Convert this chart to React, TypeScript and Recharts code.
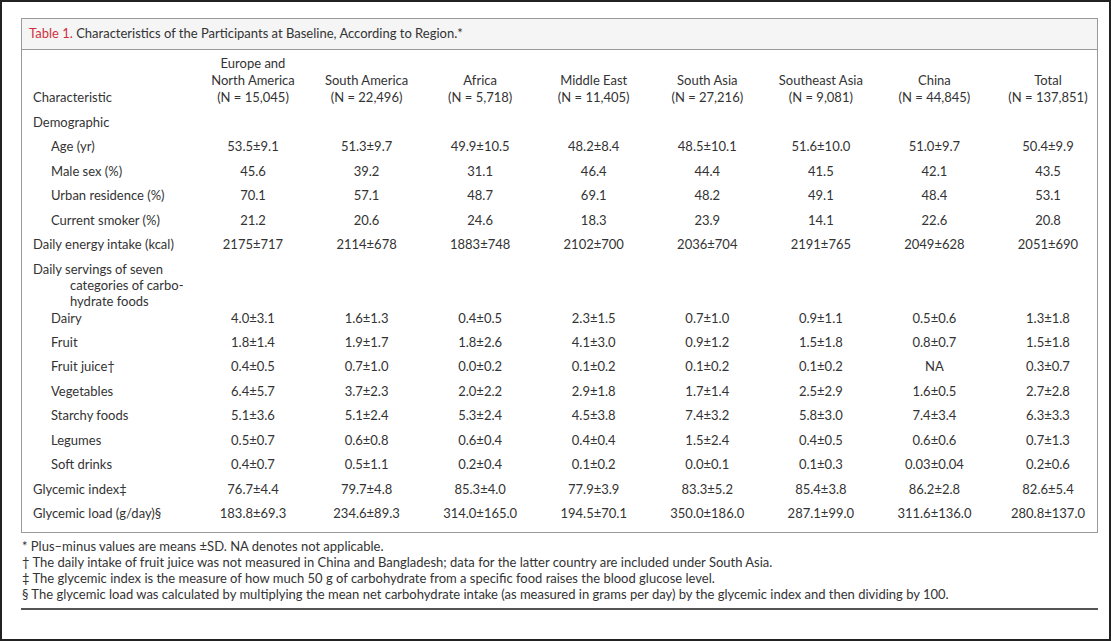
import { ScatterChart, Scatter, XAxis, YAxis } from 'recharts';

const regions = [
  'Europe and\nNorth America',
  'South America',
  'Africa',
  'Middle East',
  'South Asia',
  'Southeast Asia',
  'China',
  'Total',
];
const regionCounts = ['15,045', '22,496', '5,718', '11,405', '27,216', '9,081', '44,845', '137,851'];

const characteristics = [
  'Demographic',
  'Age (yr)',
  'Male sex (%)',
  'Urban residence (%)',
  'Current smoker (%)',
  'Daily energy intake (kcal)',
  'Daily servings of seven\ncategories of carbo-\nhydrate foods',
  ' ',
  'Dairy',
  'Fruit',
  'Fruit juice†',
  'Vegetables',
  'Starchy foods',
  'Legumes',
  'Soft drinks',
  'Glycemic index‡',
  'Glycemic load (g/day)§',
];
// 0 = top-level row, 1 = indented under a group
const rowLevel = [0, 1, 1, 1, 1, 0, 0, 0, 1, 1, 1, 1, 1, 1, 1, 0, 0];

const europeNorthAmerica = ['', '53.5±9.1', '45.6', '70.1', '21.2', '2175±717', '', '', '4.0±3.1', '1.8±1.4', '0.4±0.5', '6.4±5.7', '5.1±3.6', '0.5±0.7', '0.4±0.7', '76.7±4.4', '183.8±69.3'];
const southAmerica = ['', '51.3±9.7', '39.2', '57.1', '20.6', '2114±678', '', '', '1.6±1.3', '1.9±1.7', '0.7±1.0', '3.7±2.3', '5.1±2.4', '0.6±0.8', '0.5±1.1', '79.7±4.8', '234.6±89.3'];
const africa = ['', '49.9±10.5', '31.1', '48.7', '24.6', '1883±748', '', '', '0.4±0.5', '1.8±2.6', '0.0±0.2', '2.0±2.2', '5.3±2.4', '0.6±0.4', '0.2±0.4', '85.3±4.0', '314.0±165.0'];
const middleEast = ['', '48.2±8.4', '46.4', '69.1', '18.3', '2102±700', '', '', '2.3±1.5', '4.1±3.0', '0.1±0.2', '2.9±1.8', '4.5±3.8', '0.4±0.4', '0.1±0.2', '77.9±3.9', '194.5±70.1'];
const southAsia = ['', '48.5±10.1', '44.4', '48.2', '23.9', '2036±704', '', '', '0.7±1.0', '0.9±1.2', '0.1±0.2', '1.7±1.4', '7.4±3.2', '1.5±2.4', '0.0±0.1', '83.3±5.2', '350.0±186.0'];
const southeastAsia = ['', '51.6±10.0', '41.5', '49.1', '14.1', '2191±765', '', '', '0.9±1.1', '1.5±1.8', '0.1±0.2', '2.5±2.9', '5.8±3.0', '0.4±0.5', '0.1±0.3', '85.4±3.8', '287.1±99.0'];
const china = ['', '51.0±9.7', '42.1', '48.4', '22.6', '2049±628', '', '', '0.5±0.6', '0.8±0.7', 'NA', '1.6±0.5', '7.4±3.4', '0.6±0.6', '0.03±0.04', '86.2±2.8', '311.6±136.0'];
const total = ['', '50.4±9.9', '43.5', '53.1', '20.8', '2051±690', '', '', '1.3±1.8', '1.5±1.8', '0.3±0.7', '2.7±2.8', '6.3±3.3', '0.7±1.3', '0.2±0.6', '82.6±5.4', '280.8±137.0'];

const regionValues = [europeNorthAmerica, southAmerica, africa, middleEast, southAsia, southeastAsia, china, total];

const footnotes = [
  '* Plus–minus values are means ±SD. NA denotes not applicable.',
  '† The daily intake of fruit juice was not measured in China and Bangladesh; data for the latter country are included under South Asia.',
  '‡ The glycemic index is the measure of how much 50 g of carbohydrate from a specific food raises the blood glucose level.',
  '§ The glycemic load was calculated by multiplying the mean net carbohydrate intake (as measured in grams per day) by the glycemic index and then dividing by 100.',
];

const FONT = 'Lato, "Open Sans", sans-serif';
const FS = 13;
const TEXT = '#333';
const LINE = '#9a9a9a';

const HeaderTick = ({ x, y, payload }: any) => {
  const i = regions.indexOf(payload.value);
  const lines = [...String(payload.value).split('\n'), `(N = ${regionCounts[i]})`];
  return (
    <g>
      {lines.map((l, k) => (
        <text
          key={k}
          x={x}
          y={y - 25 - (lines.length - 1 - k) * 17}
          textAnchor="middle"
          dominantBaseline="central"
          fontFamily={FONT}
          fontSize={FS}
          fontWeight={400}
          stroke="none"
          fill={TEXT}
        >
          {l}
        </text>
      ))}
    </g>
  );
};

const RowTick = ({ y, payload }: any) => {
  const i = characteristics.indexOf(payload.value);
  const lines = String(payload.value).split('\n');
  return (
    <g>
      {lines.map((l, k) => (
        <text
          key={k}
          x={33 + rowLevel[i] * 18 + (k > 0 ? 37 : 0)}
          y={y + k * 16}
          textAnchor="start"
          dominantBaseline="central"
          fontFamily={FONT}
          fontSize={FS}
          stroke="none"
          fill={TEXT}
        >
          {l}
        </text>
      ))}
    </g>
  );
};

const CellText = (props: any) => {
  const v = props.payload?.value;
  if (!v) return <g />;
  return (
    <text
      x={props.cx}
      y={props.cy}
      textAnchor="middle"
      dominantBaseline="central"
      fontFamily={FONT}
      fontSize={FS}
      fill={TEXT}
    >
      {v}
    </text>
  );
};

const App = () => {
  return (
    <div style={{ position: 'fixed', left: 0, top: 0, width: 1111, height: 641, background: '#fff', fontFamily: FONT, color: TEXT }}>
      <div style={{ position: 'absolute', inset: 0, border: '2px solid #222', boxSizing: 'border-box' }} />
      <div style={{ position: 'absolute', left: 21, top: 18, width: 1077, height: 515, border: `1px solid ${LINE}`, boxSizing: 'border-box' }} />
      <div
        style={{
          position: 'absolute', left: 21, top: 18, width: 1077, height: 32,
          background: '#f5f5f5', border: `1px solid ${LINE}`, boxSizing: 'border-box',
          paddingLeft: 7, lineHeight: '29px', fontSize: FS,
        }}
      >
        <span style={{ color: '#d0303c' }}>Table 1.</span> Characteristics of the Participants at Baseline, According to Region.*
      </div>
      <div style={{ position: 'absolute', left: 33, top: 89, fontSize: FS, lineHeight: '16px' }}>Characteristic</div>
      <div style={{ position: 'absolute', left: 22, top: 538, fontSize: FS, lineHeight: '16px', whiteSpace: 'nowrap' }}>
        {footnotes.map((f) => (
          <div key={f}>{f}</div>
        ))}
      </div>
      <div style={{ position: 'absolute', left: 21, top: 608, width: 1077, height: 2, background: '#555' }} />
      <div style={{ position: 'absolute', left: 0, top: 0 }}>
        <ScatterChart width={1111} height={641} margin={{ top: 50, right: 63, bottom: 128, left: 20 }}>
          <XAxis
            dataKey="region"
            type="category"
            scale="point"
            orientation="top"
            allowDuplicatedCategory={false}
            ticks={regions}
            axisLine={false}
            tickLine={false}
            tickSize={0}
            tickMargin={0}
            height={72}
            interval={0}
            tick={<HeaderTick />}
          />
          <YAxis
            dataKey="row"
            type="category"
            scale="point"
            reversed
            allowDuplicatedCategory={false}
            ticks={characteristics}
            axisLine={false}
            tickLine={false}
            tickSize={0}
            tickMargin={0}
            width={233}
            interval={0}
            tick={<RowTick />}
          />
          {regions.map((r, j) => (
            <Scatter
              key={r}
              data={characteristics.map((c, i) => ({ region: r, row: c, value: regionValues[j][i] }))}
              shape={CellText}
              isAnimationActive={false}
            />
          ))}
        </ScatterChart>
      </div>
    </div>
  );
};

export default App;
